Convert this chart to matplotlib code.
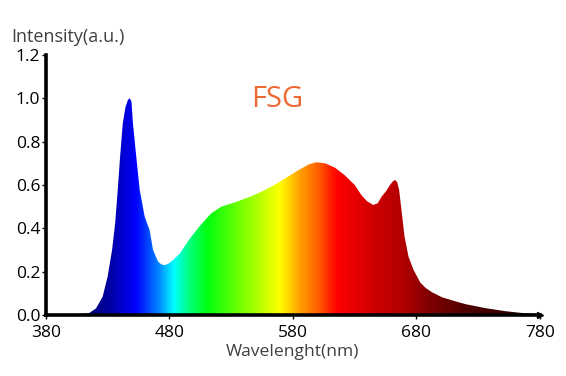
import numpy as np
import matplotlib
matplotlib.use("Agg")
import matplotlib.pyplot as plt
from matplotlib.colors import LinearSegmentedColormap

# spectrum (nm, a.u.)
wavelength = [380, 400, 410, 415, 420.6, 426, 430, 433.6, 436.1, 438.2, 440.1, 442.3,
              444.5, 446.5, 448, 449.3, 450.5, 453.2, 456, 460, 464, 466.8, 470.9,
              473.5, 476.3, 479.5, 483, 488.6, 495.6, 501, 506, 514, 522, 533, 545,
              555, 565, 575, 585, 593, 599, 606, 614, 622, 630, 635.5, 640, 645,
              648.5, 651.8, 655.5, 658.6, 661, 662.7, 664.5, 666, 668.2, 670.4,
              673.6, 677.7, 683.1, 687.5, 692.7, 700.8, 710, 720, 736, 752, 765, 780]
intensity = [0.0, 0.002, 0.006, 0.009, 0.031, 0.085, 0.177, 0.3, 0.423, 0.577, 0.73, 0.885,
             0.96, 0.993, 1.0, 0.985, 0.885, 0.73, 0.577, 0.454, 0.392, 0.3, 0.246,
             0.234, 0.23, 0.238, 0.254, 0.285, 0.345, 0.385, 0.42, 0.47, 0.5, 0.52, 0.545,
             0.57, 0.6, 0.635, 0.67, 0.695, 0.705, 0.7, 0.68, 0.645, 0.6, 0.553, 0.525, 0.508,
             0.515, 0.546, 0.572, 0.6, 0.617, 0.623, 0.612, 0.577, 0.469, 0.361,
             0.269, 0.208, 0.15, 0.125, 0.105, 0.082, 0.066, 0.05, 0.032, 0.018, 0.01, 0.004]

# colour of the spectrum at a given wavelength
grad_nm = [380, 400, 430, 452, 470, 483, 495, 510, 540, 569, 585, 600, 615, 630, 650, 670, 690, 720, 780]
grad_col = ["#000040", "#000060", "#0000a0", "#0000ff", "#0080ff", "#00ffff", "#00ff80", "#00ff10",
            "#80ff00", "#ffff00", "#ffa000", "#ff6000", "#ff0000", "#e80000", "#c80000", "#b00000",
            "#800000", "#500000", "#200000"]

ticks_x = [380, 480, 580, 680, 780]
ticks_y = [0.0, 0.2, 0.4, 0.6, 0.8, 1.0, 1.2]

plt.rcParams['font.family'] = ['Open Sans', 'DejaVu Sans']

fig = plt.figure(figsize=(5.66, 3.76), dpi=100)
ax = fig.add_axes([0.081, 0.162, 0.873, 0.692])

stops = [(w - 380) / 400 for w in grad_nm]
cmap = LinearSegmentedColormap.from_list("spec", list(zip(stops, grad_col)))
grad = np.linspace(380, 780, 800).reshape(1, -1)
poly = ax.fill_between(wavelength, intensity, 0, color="none", lw=0)
im = ax.imshow(grad, extent=[380, 780, 0, 1.2], aspect="auto", cmap=cmap,
               vmin=380, vmax=780, origin="lower", zorder=1)
im.set_clip_path(poly.get_paths()[0], transform=ax.transData)

ax.set_xlim(380, 780)
ax.set_ylim(0, 1.2)
ax.set_xticks(ticks_x)
ax.set_yticks(ticks_y)
ax.set_yticklabels([f"{v:.1f}" for v in ticks_y])
for s in ["top", "right"]:
    ax.spines[s].set_visible(False)
for s in ["left", "bottom"]:
    ax.spines[s].set_linewidth(2.6)
    ax.spines[s].set_zorder(3)
ax.tick_params(direction="out", length=3, width=1, labelsize=12.5, pad=1, colors="black")
ax.tick_params(axis="x", pad=4)
ax.plot(1.0, 0, marker=">", ms=5, color="black", transform=ax.transAxes, clip_on=False, zorder=4)

ax.text(-0.07, 1.035, "Intensity(a.u.)", transform=ax.transAxes, fontsize=13,
        color="#404040", ha="left", va="bottom")
ax.set_xlabel("Wavelenght(nm)", fontsize=12.6, color="#404040", labelpad=2)
ax.text(0.468, 0.83, "FSG", transform=ax.transAxes, fontsize=21, color="#ee6a35",
        ha="center", va="center")

fig.savefig("out.png", dpi=100)
